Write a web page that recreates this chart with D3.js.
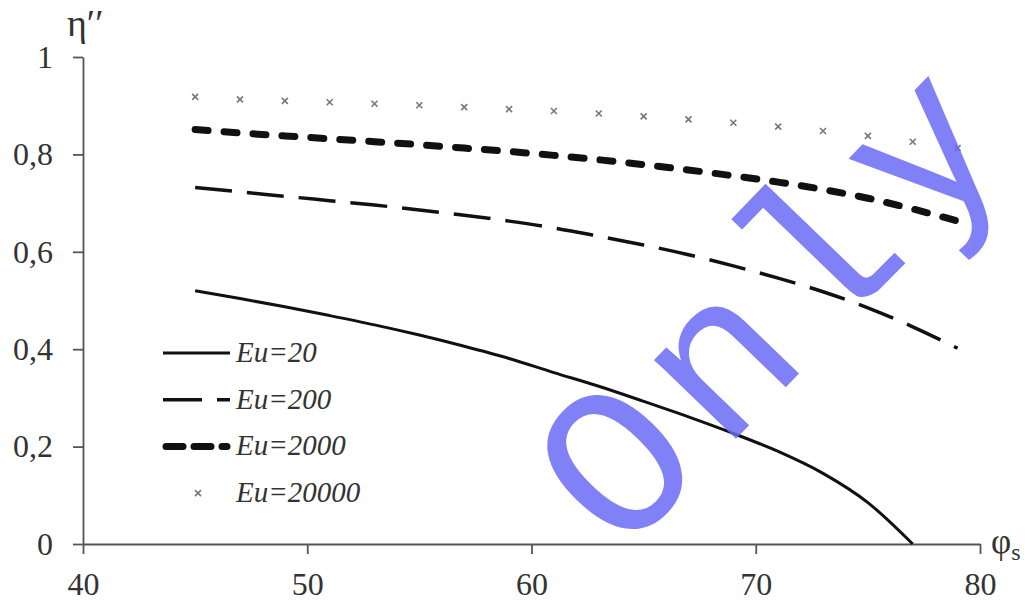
<!DOCTYPE html>
<html>
<head>
<meta charset="utf-8">
<script src="https://cdn.jsdelivr.net/npm/d3@7"></script>
<style>
  text.serif, text.serif tspan { font-family: 'Liberation Serif', 'Times New Roman', serif !important; }
  text.mono { font-family: 'Liberation Mono', monospace !important; }
</style>
</head>
<body style="margin:0">
<svg width="1028" height="602"></svg>
<script>
// data
const phi = [45, 47, 49, 51, 53, 55, 57, 59, 61, 63, 65, 67, 69, 71, 73, 75, 77, 79]
const eu20 = [0.520, 0.504, 0.487, 0.469, 0.450, 0.429, 0.406, 0.381, 0.352, 0.324, 0.293, 0.261, 0.227, 0.190, 0.145, 0.085, 0.0]
const eu200 = [0.732, 0.723, 0.714, 0.705, 0.696, 0.686, 0.675, 0.663, 0.649, 0.632, 0.614, 0.594, 0.571, 0.546, 0.518, 0.485, 0.446, 0.402]
const eu2000 = [0.851, 0.844, 0.838, 0.832, 0.826, 0.820, 0.813, 0.806, 0.798, 0.789, 0.779, 0.768, 0.756, 0.743, 0.728, 0.710, 0.688, 0.663]
const eu20000 = [0.918, 0.913, 0.910, 0.907, 0.904, 0.901, 0.897, 0.893, 0.889, 0.884, 0.878, 0.872, 0.865, 0.857, 0.848, 0.838, 0.826, 0.813]
const xTicks = [40, 50, 60, 70, 80]
const yTicks = [0, 0.2, 0.4, 0.6, 0.8, 1]
const legendNames = ["Eu=20", "Eu=200", "Eu=2000", "Eu=20000"]

const serifFam = "'Liberation Serif', 'Times New Roman', serif"
const monoFam = "'Liberation Mono', monospace"

const svg = d3.select("svg")
const x = d3.scaleLinear().domain([40, 80]).range([83, 980])
const y = d3.scaleLinear().domain([0, 1]).range([544, 57])

function serifText(sel, size) {
	return sel.classed("serif", true)
		.attr("font-family", serifFam)
		.style("font-family", serifFam)
		.style("font-size", size + "px")
		.attr("fill", "#333")
}

// axes
svg.append("g")
	.attr("transform", "translate(0,544)")
	.call(d3.axisBottom(x).tickValues(xTicks).tickSize(10).tickSizeOuter(0).tickPadding(18))
svg.append("g")
	.attr("transform", "translate(83,0)")
	.call(d3.axisLeft(y).tickValues(yTicks).tickSize(10).tickSizeOuter(0).tickPadding(20)
		.tickFormat(d => (d === 0 || d === 1) ? String(d) : d3.format(".1f")(d).replace(".", ",")))

svg.selectAll(".domain, .tick line").attr("stroke", "#555").attr("stroke-width", 1.8)
svg.selectAll("g").attr("font-family", serifFam)
serifText(svg.selectAll(".tick text"), 32)

// axis titles
serifText(svg.append("text"), 38)
	.attr("x", 67).attr("y", 36)
	.text("η′′")
const phiLabel = serifText(svg.append("text"), 35)
	.attr("x", 991).attr("y", 553)
phiLabel.append("tspan").text("φ")
phiLabel.append("tspan").attr("dy", 7).style("font-size", "24px").text("s")

// series
const line = d3.line()
	.x((d, i) => x(phi[i]))
	.y(d => y(d))
	.curve(d3.curveMonotoneX)

const styles = [
	{ width: 3, dash: null, cap: "butt" },
	{ width: 3.5, dash: "37,15", cap: "butt" },
	{ width: 7, dash: "13,16", cap: "round" }
]

;[eu20, eu200, eu2000].forEach((s, k) => {
	svg.append("path")
		.datum(s)
		.attr("d", line)
		.attr("fill", "none")
		.attr("stroke", "#111")
		.attr("stroke-width", styles[k].width)
		.attr("stroke-dasharray", styles[k].dash)
		.attr("stroke-linecap", styles[k].cap)
})

const cross = "M-3,-3L3,3M-3,3L3,-3"
svg.append("g")
	.selectAll("path")
	.data(eu20000)
	.enter()
	.append("path")
	.attr("transform", (d, i) => "translate(" + x(phi[i]) + "," + y(d) + ")")
	.attr("d", cross)
	.attr("stroke", "#777")
	.attr("stroke-width", 1.6)

// legend
const legend = svg.append("g")
legendNames.forEach((name, k) => {
	const ly = 353 + k * 46.7
	if (k < 3) {
		legend.append("line")
			.attr("x1", k === 2 ? 166 : 163).attr("x2", k === 2 ? 227 : 230)
			.attr("y1", ly).attr("y2", ly)
			.attr("stroke", "#111")
			.attr("stroke-width", styles[k].width)
			.attr("stroke-dasharray", k === 1 ? "39,15" : (k === 2 ? "17,11" : null))
			.attr("stroke-linecap", styles[k].cap)
	} else {
		legend.append("path")
			.attr("transform", "translate(198," + ly + ")")
			.attr("d", cross)
			.attr("stroke", "#777")
			.attr("stroke-width", 1.6)
	}
	serifText(legend.append("text"), 29)
		.attr("x", 236).attr("y", ly + 9)
		.style("font-style", "italic")
		.text(name)
})

// watermark
svg.append("text")
	.attr("class", "mono")
	.attr("transform", "translate(783,308) rotate(-46)")
	.attr("text-anchor", "middle")
	.attr("dominant-baseline", "central")
	.attr("font-family", monoFam)
	.style("font-family", monoFam)
	.style("font-size", "215px")
	.style("letter-spacing", "17px")
	.attr("fill", "#6a6af6")
	.attr("opacity", 0.85)
	.text("Only")
</script>
</body>
</html>
